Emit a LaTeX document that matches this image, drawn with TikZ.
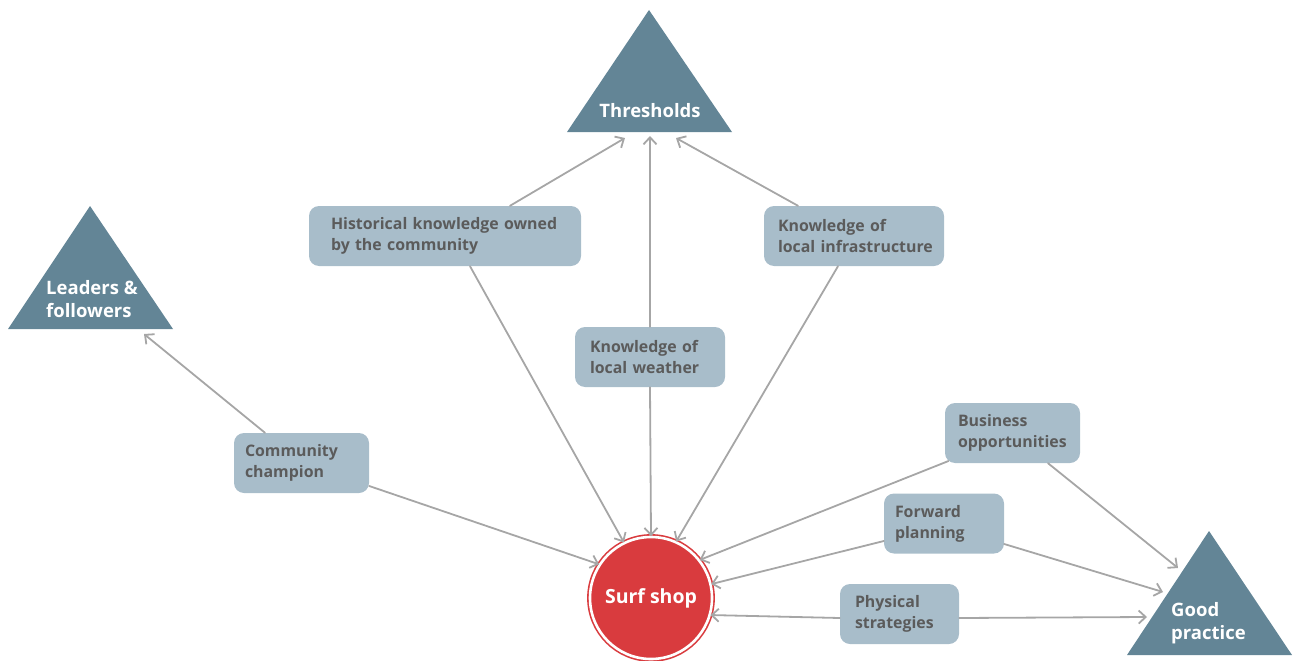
\documentclass[tikz,border=0pt]{standalone}
\usepackage{fontspec}
\setmainfont{Open Sans}
\usetikzlibrary{arrows.meta}
\definecolor{tric}{HTML}{638596}
\definecolor{boxc}{HTML}{A8BDCA}
\definecolor{boxtxt}{HTML}{5B5B5B}
\definecolor{redc}{HTML}{D93B3E}
\definecolor{linec}{HTML}{A6A6A6}
\begin{document}
\begin{tikzpicture}[x=1pt,y=-1pt,
  box/.style={rectangle, rounded corners=10pt, fill=boxc, text=boxtxt,
    font=\bfseries\fontsize{15.9}{21}\selectfont, align=left,
    inner ysep=0pt, inner xsep=0pt, minimum height=60pt, anchor=center},
  conn/.style={draw=linec, line width=1.8pt, line cap=round,
    -{Straight Barb[length=7pt,width=13pt,line width=1.8pt]}},
  tritext/.style={text=white, font=\bfseries\fontsize{18.5}{23}\selectfont, align=left, inner sep=0pt}]
\useasboundingbox (0,0) rectangle (1293,661);

% triangles
\fill[tric] (649,10) -- (732,132) -- (567,132) -- cycle;
\node[tritext, anchor=center] (thr) at (650,111) {Thresholds};
\fill[tric] (90,206) -- (173,329) -- (8,329) -- cycle;
\node[tritext, anchor=west] (lea) at (46,299) {Leaders \&\\followers};
\fill[tric] (1209,531) -- (1292,655) -- (1127,655) -- cycle;
\node[tritext, anchor=west] (good) at (1171,623) {Good\\practice};

% arrow targets at triangles
\coordinate (thrL) at (625,138);
\coordinate (thrM) at (650,136);
\coordinate (thrR) at (676,138);
\coordinate (leaT) at (144,334);
\coordinate (goodA) at (1178,568);
\coordinate (goodB) at (1163,592);
\coordinate (goodC) at (1147,617);

% boxes
\node[box, minimum width=272pt, text width=228pt] (hist) at (445,236) {\mbox{Historical knowledge owned}\\\mbox{by the community}};
\node[box, minimum width=180pt, text width=152pt] (infra) at (854,236) {\mbox{Knowledge of}\\\mbox{local infrastructure}};
\node[box, minimum width=150pt, text width=120pt] (weat) at (650,357) {\mbox{Knowledge of}\\\mbox{local weather}};
\node[box, minimum width=135pt, text width=113pt] (comm) at (301.5,463) {\mbox{Community}\\\mbox{champion}};
\node[box, minimum width=135pt, text width=109pt] (bus) at (1012.5,433) {\mbox{Business}\\\mbox{opportunities}};
\node[box, minimum width=120pt, text width=98pt] (fwd) at (944,523.5) {\mbox{Forward}\\\mbox{planning}};
\node[box, minimum width=119pt, text width=89pt] (phy) at (899.5,614) {\mbox{Physical}\\\mbox{strategies}};

% surf shop
\node[circle, minimum size=122pt, fill=redc, draw=redc, line width=1.6pt,
  double=white, double distance=2.6pt, text=white, inner sep=0pt,
  font=\bfseries\fontsize{19.5}{23}\selectfont] (surf) at (651,598) {Surf shop};

% connectors
\draw[conn] ([xshift=65pt]hist.north) -- (thrL);
\draw[conn] (weat.north) -- (thrM);
\draw[conn] ([xshift=-56pt]infra.north) -- (thrR);
\draw[conn] ([xshift=25pt]hist.south) -- (surf.116);
\draw[conn] (weat.south) -- (surf.90);
\draw[conn] ([xshift=-16pt]infra.south) -- (surf.66);
\draw[conn] ([xshift=-36.5pt]comm.north) -- (leaT);
\draw[conn] ([yshift=-23pt]comm.east) -- (surf.147);
\draw[conn] ([xshift=-64pt,yshift=-28pt]bus.center) -- (surf.38);
\draw[conn] ([yshift=-17.5pt]fwd.west) -- (surf.13);
\draw[conn] ([xshift=35.5pt]bus.south) -- (goodA);
\draw[conn] ([yshift=-20.5pt]fwd.east) -- (goodB);
\draw[conn] ([yshift=-4pt]phy.west) -- (surf.-16);
\draw[conn] ([yshift=-4pt]phy.east) -- (goodC);
\end{tikzpicture}
\end{document}
